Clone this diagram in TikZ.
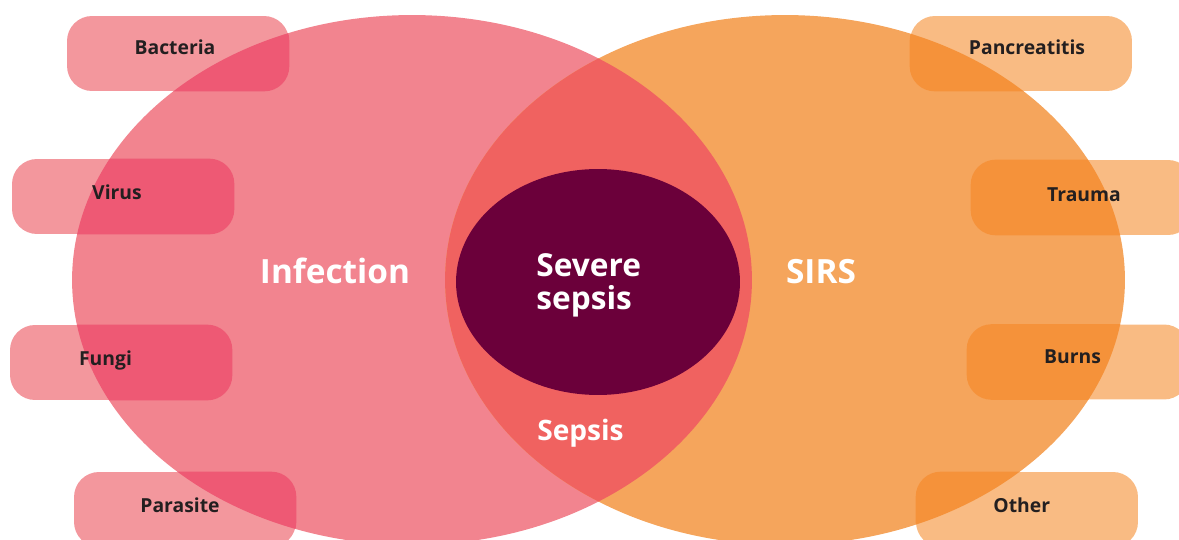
\documentclass[tikz,border=0pt]{standalone}
\usepackage{fontspec}
\setmainfont{Open Sans}
\usepackage{tikz}
\usetikzlibrary{positioning}
\usepackage{xcolor}
\definecolor{infpink}{HTML}{F2848F}
\definecolor{sirsorange}{HTML}{F5A55C}
\definecolor{lensred}{HTML}{F06260}
\definecolor{severeplum}{HTML}{6B003A}
\definecolor{boxpink}{HTML}{F3979D}
\definecolor{boxpinkdeep}{HTML}{EE5974}
\definecolor{boxorange}{HTML}{F9BB83}
\definecolor{boxorangedeep}{HTML}{F5923A}
\definecolor{labelgrey}{HTML}{231F20}

\begin{document}
\begin{tikzpicture}[x=0.02cm,y=-0.02cm,
  causebox/.style={rectangle,rounded corners=0.5cm,minimum width=4.44cm,minimum height=1.5cm,inner sep=0pt},
  causetext/.style={anchor=base,text=labelgrey,font=\bfseries\fontsize{11}{13}\selectfont},
  bigtext/.style={anchor=base,text=white,font=\bfseries\fontsize{19}{21}\selectfont}]
  \useasboundingbox (0,0) rectangle (1179,540);
  % Centres of the two sets and the inner one
  \coordinate (Inf) at (412,280);
  \coordinate (Sir) at (785,280);
  \coordinate (Sev) at (598,282);
  \fill[infpink] (Inf) ellipse [x radius=6.8cm,y radius=5.3cm];
  \fill[sirsorange] (Sir) ellipse [x radius=6.8cm,y radius=5.3cm];
  \begin{scope}
    \clip (Inf) ellipse [x radius=6.8cm,y radius=5.3cm];
    \fill[lensred] (Sir) ellipse [x radius=6.8cm,y radius=5.3cm];
  \end{scope}
  \fill[severeplum] (Sev) ellipse [x radius=2.84cm,y radius=2.26cm];
  % Causes on the left
  \node[causebox,fill=boxpink] (bac) at (178,53.5) {};
  \node[causebox,fill=boxpink] (vir) at (123,196.5) {};
  \node[causebox,fill=boxpink] (fun) at (121,362.5) {};
  \node[causebox,fill=boxpink] (par) at (185,509.5) {};
  % Causes on the right
  \node[causebox,fill=boxorange] (pan) at (1021,53.5) {};
  \node[causebox,fill=boxorange] (tra) at (1082,197.5) {};
  \node[causebox,fill=boxorange] (bur) at (1078,362) {};
  \node[causebox,fill=boxorange] (oth) at (1027,509.5) {};
  % Darker where a box lies on its set
  \begin{scope}
    \clip (Inf) ellipse [x radius=6.8cm,y radius=5.3cm];
    \foreach \b in {bac,vir,fun,par}
      \fill[boxpinkdeep,rounded corners=0.5cm] (\b.south west) rectangle (\b.north east);
  \end{scope}
  \begin{scope}
    \clip (Sir) ellipse [x radius=6.8cm,y radius=5.3cm];
    \foreach \b in {pan,tra,bur,oth}
      \fill[boxorangedeep,rounded corners=0.5cm] (\b.south west) rectangle (\b.north east);
  \end{scope}
  \node[causetext] (bact) at (175,55) {Bacteria};
  \node[causetext] (virt) at (117,200) {Virus};
  \node[causetext] (funt) at (105.5,365) {Fungi};
  \node[causetext] (part) at (180,512) {Parasite};
  \node[causetext] (pant) at (1027,55) {Pancreatitis};
  \node[causetext] (trat) at (1084,202) {Trauma};
  \node[causetext] (burt) at (1072.5,363) {Burns};
  \node[causetext] (otht) at (1021.7,512) {Other};
  % Set names
  \node[bigtext] (inft) at (335,284) {Infection};
  \node[bigtext] (sirt) at (821,284) {SIRS};
  \node[anchor=base west,text=white,align=left,inner sep=0pt,
    font=\bfseries\fontsize{18}{19.3}\selectfont] (sevt) at (536,310) {Severe\\sepsis};
  \node[bigtext,font=\bfseries\fontsize{16}{18}\selectfont] (sept) at (580.5,440) {Sepsis};
\end{tikzpicture}
\end{document}
